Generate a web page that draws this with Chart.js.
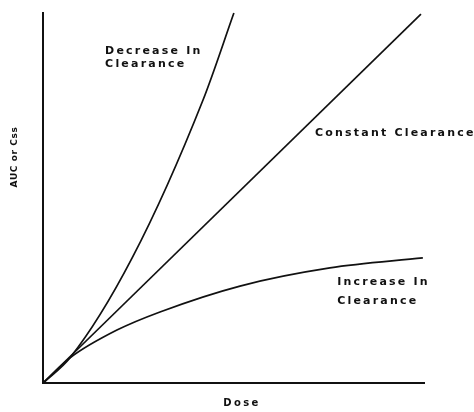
<!DOCTYPE html>
<html>
    <head>
        <meta charset="utf-8">
        <title>AUC vs Dose</title>
        <script src="https://cdn.jsdelivr.net/npm/chart.js@4.4.0/dist/chart.umd.min.js"></script>
        <style>
            html, body {
                margin: 0;
                padding: 0;
                background: #fff;
            }
            #container {
                width: 474px;
                height: 412px;
            }
        </style>
    </head>
    <body>
        <div id="container">
            <canvas id="vis"></canvas>
        </div>
        <script>
            // values (dose and AUC on a 0-100 scale)
            const constantDose = [0, 99.2];
            const constantAuc = [0, 99.7];

            const decreaseDose = [0, 7.1, 23.4, 42.0, 50.1];
            const decreaseAuc = [0, 6.8, 33.8, 76.5, 100];

            const increaseDose = [0, 7.1, 19.4, 30.7, 51.7, 75.3, 99.7];
            const increaseAuc = [0, 6.8, 14.3, 19.2, 26.2, 31.1, 33.8];

            const xTitle = 'Dose';
            const yTitle = 'AUC or Css';

            // curve labels, placed in data coordinates
            const notes = [
                { lines: ['Decrease In', 'Clearance'], x: 16.3, y: 88.9, gap: 13 },
                { lines: ['Constant Clearance'], x: 71.4, y: 66.8, gap: 0 },
                { lines: ['Increase In', 'Clearance'], x: 77.2, y: 26.5, gap: 19 }
            ];

            const ink = '#111';

            const toPoints = (xs, ys) => xs.map((x, i) => ({ x, y: ys[i] }));

            const lineStyle = {
                borderColor: ink,
                borderWidth: 1.7,
                pointRadius: 0,
                showLine: true,
                fill: false,
                cubicInterpolationMode: 'monotone',
                clip: false
            };

            const textPlugin = {
                id: 'texts',
                afterDraw(chart) {
                    const ctx = chart.ctx;
                    const xs = chart.scales.x;
                    const ys = chart.scales.y;
                    ctx.save();
                    ctx.font = 'bold 11px "DejaVu Sans"';
                    ctx.fillStyle = ink;
                    ctx.letterSpacing = '2.2px';
                    ctx.textAlign = 'left';
                    ctx.textBaseline = 'alphabetic';
                    notes.forEach(n => {
                        const px = xs.getPixelForValue(n.x);
                        const py = ys.getPixelForValue(n.y);
                        n.lines.forEach((t, i) => ctx.fillText(t, px, py + i * n.gap));
                    });

                    // axis titles
                    ctx.textAlign = 'center';
                    ctx.font = 'bold 10px "DejaVu Sans"';
                    ctx.letterSpacing = '2.4px';
                    ctx.fillText(xTitle, 242, 406);
                    ctx.font = 'bold 9px "DejaVu Sans"';
                    ctx.letterSpacing = '0.6px';
                    ctx.translate(15, 157);
                    ctx.rotate(-Math.PI / 2);
                    ctx.textBaseline = 'middle';
                    ctx.fillText(yTitle, 0, 0);
                    ctx.restore();
                }
            };

            new Chart(document.getElementById('vis'), {
                type: 'scatter',
                data: {
                    datasets: [
                        { label: 'Decrease in clearance', data: toPoints(decreaseDose, decreaseAuc), ...lineStyle },
                        { label: 'Constant clearance', data: toPoints(constantDose, constantAuc), ...lineStyle, cubicInterpolationMode: 'default' },
                        { label: 'Increase in clearance', data: toPoints(increaseDose, increaseAuc), ...lineStyle }
                    ]
                },
                options: {
                    responsive: true,
                    maintainAspectRatio: false,
                    animation: false,
                    layout: {
                        padding: { left: 0, top: 13, right: 50, bottom: 0 }
                    },
                    plugins: {
                        legend: { display: false },
                        tooltip: { enabled: false }
                    },
                    scales: {
                        x: {
                            type: 'linear',
                            min: 0,
                            max: 100,
                            grid: { display: false },
                            ticks: { display: false },
                            border: { display: true, color: ink, width: 2 },
                            afterFit: s => { s.height = 29; }
                        },
                        y: {
                            type: 'linear',
                            min: 0,
                            max: 100,
                            grid: { display: false },
                            ticks: { display: false },
                            border: { display: true, color: ink, width: 2 },
                            afterFit: s => { s.width = 43; }
                        }
                    }
                },
                plugins: [textPlugin]
            });
        </script>
    </body>
</html>
